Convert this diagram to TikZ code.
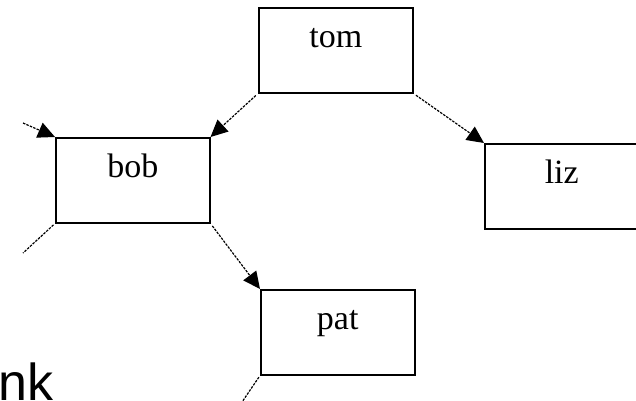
\documentclass[tikz,border=0pt]{standalone}
\usepackage{fontspec}
\setmainfont{Liberation Serif}
\newfontfamily\captionfont{Liberation Sans}
\usetikzlibrary{arrows.meta}

\begin{document}
\begin{tikzpicture}
[every node/.style={inner sep=0pt}, x=1pt, y=1pt,
 person/.style={rectangle, anchor=north west, minimum width=154pt, text height=40pt, text depth=45pt, line width=1.5pt, draw=black, font=\fontsize{34}{34}\selectfont},
 link/.style={line width=1.2pt, dash pattern=on 2.5pt off 1.2pt, -{Triangle[length=17pt, width=16pt]}, shorten <=3pt, color=black},
 loose/.style={line width=1.2pt, dash pattern=on 2.5pt off 1.2pt, color=black}]
\useasboundingbox (0,0) rectangle (636,-400);
\node (tom) [person] at (258, -7) {tom};
\node (bob) [person] at (55, -137) {bob};
\node (liz) [person] at (484, -143) {liz};
\node (pat) [person] at (260, -289) {pat};
\coordinate (bobin) at (23, -123);
\coordinate (bobout) at (23, -253);
\coordinate (patout) at (240, -405);
\node (nk) [anchor=base west, font=\captionfont\fontsize{52}{52}\selectfont] at (-2, -400) {nk};
\draw [link] (tom.south west) -- (bob.north east);
\draw [link] (tom.south east) -- (liz.north west);
\draw [link] (bob.south east) -- (pat.north west);
\draw [link, shorten <=0pt] (bobin) -- (bob.north west);
\draw [loose, shorten <=2pt] (bob.south west) -- (bobout);
\draw [loose, shorten <=2pt] (pat.south west) -- (patout);
\end{tikzpicture}
\end{document}
